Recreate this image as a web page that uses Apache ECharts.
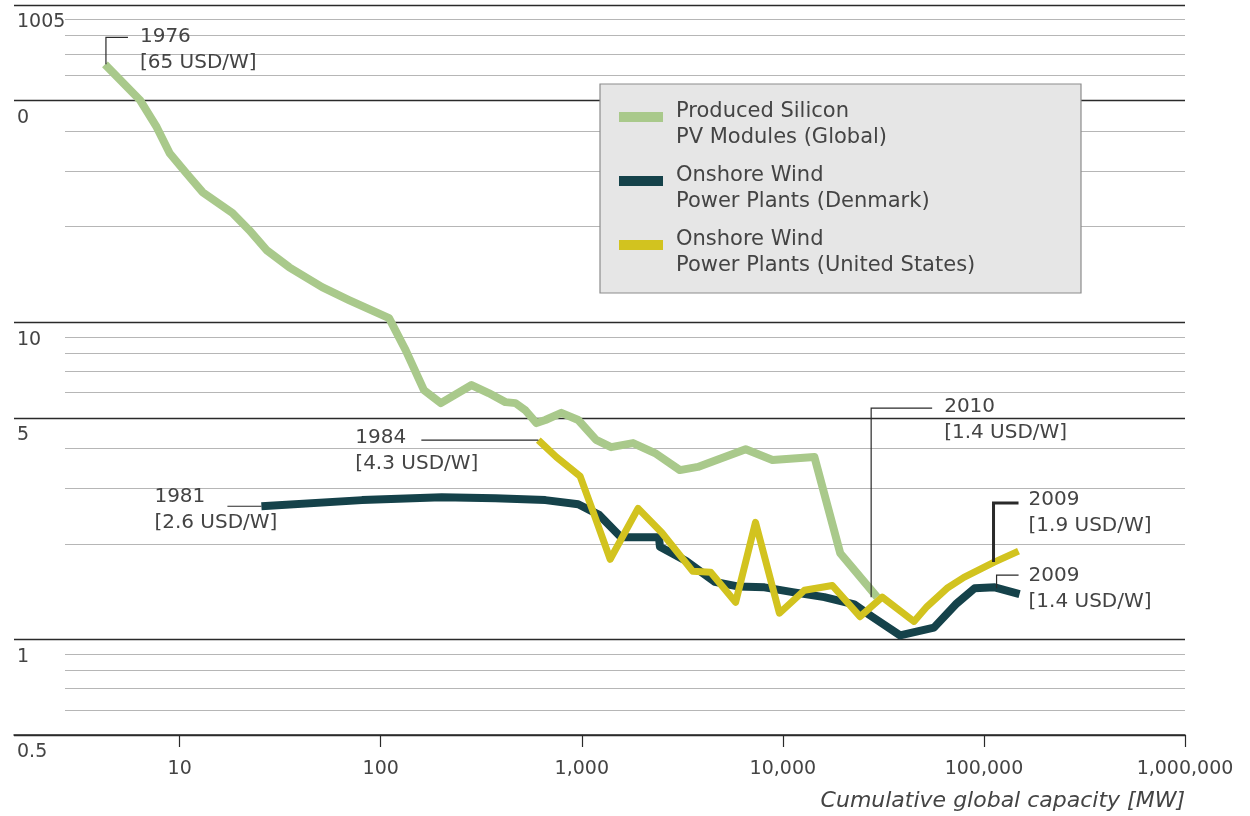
<!DOCTYPE html>
<html><head><meta charset="utf-8">
<script src="https://cdn.jsdelivr.net/npm/echarts@6/dist/echarts.min.js"></script>
<style>html,body{margin:0;padding:0;background:#fff}#c{width:1250px;height:816px}</style>
</head><body><div id="c"></div>
<script>
// ---------- data ----------
const xTickValues = [10, 100, 1000, 10000, 100000, 1000000];
const xTickLabels = ['10', '100', '1,000', '10,000', '100,000', '1,000,000'];
const yMajorValues = [100, 50, 10, 5, 1, 0.5];
const yMajorLabels = ['1005', '0', '10', '5', '1', '0.5'];
const yMinorValues = [90, 80, 70, 60, 40, 30, 20, 9, 8, 7, 6, 4, 3, 2, 0.9, 0.8, 0.7, 0.6];

const seriesNames = [
  'Produced Silicon\nPV Modules (Global)',
  'Onshore Wind\nPower Plants (Denmark)',
  'Onshore Wind\nPower Plants (United States)'
];

const pvCapacity = [4.25, 6.34, 7.69, 8.92, 10.8, 13.0, 18.3, 22.2, 27.0, 35.1, 51.1, 69.5, 110, 133, 164, 199, 283, 344, 417, 468, 524, 595, 659, 791, 960, 1178, 1399, 1798, 2311, 3076, 3778, 5139, 6531, 8879, 14350, 19290, 29440];
const pvPrice    = [65, 50.2, 41.2, 34.1, 29.5, 25.7, 22.1, 19.5, 16.9, 14.9, 12.9, 11.75, 10.3, 8.17, 6.11, 5.56, 6.34, 5.98, 5.60, 5.56, 5.28, 4.81, 4.92, 5.18, 4.92, 4.26, 4.04, 4.16, 3.87, 3.42, 3.50, 3.76, 3.98, 3.68, 3.76, 1.87, 1.36];

const dkCapacity = [25.5, 80.7, 201, 372, 659, 960, 1219, 1567, 2420, 2447, 3289, 4580, 5960, 8110, 11170, 16080, 22640, 27800, 38280, 56400, 73300, 89900, 113200, 150400];
const dkPrice    = [2.63, 2.75, 2.81, 2.79, 2.75, 2.67, 2.47, 2.10, 2.10, 1.96, 1.77, 1.52, 1.47, 1.46, 1.41, 1.36, 1.29, 1.18, 1.03, 1.09, 1.30, 1.45, 1.46, 1.39];

const usCapacity = [608, 747, 981, 1140, 1384, 1905, 2502, 3564, 4375, 5820, 7310, 9610, 12800, 17620, 24200, 31190, 44900, 52100, 65500, 79500, 111900, 148600];
const usPrice    = [4.25, 3.76, 3.27, 2.52, 1.79, 2.59, 2.17, 1.64, 1.63, 1.31, 2.34, 1.21, 1.43, 1.48, 1.18, 1.36, 1.14, 1.27, 1.45, 1.57, 1.75, 1.90];

const annotations = [
  ['1976', '[65 USD/W]'],
  ['1981', '[2.6 USD/W]'],
  ['1984', '[4.3 USD/W]'],
  ['2010', '[1.4 USD/W]'],
  ['2009', '[1.9 USD/W]'],
  ['2009', '[1.4 USD/W]']
];

// ---------- style ----------
const FONT = 'DejaVu Sans';
const TXT = '#444444';
const COLORS = ['#a9c98b', '#15424a', '#d2c31f'];

const pairs = (xs, ys) => xs.map((x, i) => [x, ys[i]]);
function xFmt(v) {
  const i = xTickValues.findIndex(t => Math.abs(Math.log10(t) - Math.log10(v)) < 1e-6);
  return i >= 0 ? xTickLabels[i] : '';
}

const chart = echarts.init(document.getElementById('c'), null, { renderer: 'canvas' });

const option = {
  animation: false,
  backgroundColor: '#ffffff',
  grid: [
    { left: 14, right: 65, top: 5, bottom: 81 },
    { left: 65, right: 65, top: 5, bottom: 81 }
  ],
  xAxis: [
    {
      type: 'log', gridIndex: 0, min: 1.5, max: 1000000, logBase: 10,
      axisLine: { show: true, lineStyle: { color: '#2a2a2a', width: 1.5 } },
      axisTick: { show: true, length: 12, lineStyle: { color: '#2a2a2a', width: 1.2 } },
      axisLabel: { formatter: xFmt, margin: 25, color: TXT, fontFamily: FONT, fontSize: 19, showMinLabel: false },
      splitLine: { show: false },
      minorTick: { show: false },
      name: 'Cumulative global capacity [MW]',
      nameLocation: 'end', nameGap: 0,
      nameTextStyle: { fontFamily: FONT, fontStyle: 'italic', fontSize: 22, color: TXT, align: 'right', verticalAlign: 'top', padding: [55, 0, 0, 0] }
    },
    { type: 'log', gridIndex: 1, min: 1.5, max: 1000000, show: false }
  ],
  yAxis: [
    { type: 'log', gridIndex: 0, min: 0.5, max: 100, show: false },
    { type: 'log', gridIndex: 1, min: 0.5, max: 100, show: false }
  ],
  legend: {
    orient: 'vertical', left: 619, top: 83, padding: 0, itemGap: -4,
    itemWidth: 44, itemHeight: 10, icon: 'rect', z: 30,
    data: seriesNames,
    formatter: name => '{s| }\n' + name.split('\n').map(l => '{a|' + l + '}').join('\n'),
    textStyle: {
      color: TXT, fontFamily: FONT, fontSize: 21, lineHeight: 26, padding: [0, 0, 0, 8],
      rich: {
        s: { fontSize: 8, lineHeight: 16, color: TXT, fontFamily: FONT },
        a: { fontSize: 21, lineHeight: 26, color: TXT, fontFamily: FONT }
      }
    }
  },
  series: [
    {
      type: 'line', xAxisIndex: 1, yAxisIndex: 1, data: [], z: 1, silent: true,
      markLine: {
        silent: true, symbol: 'none', animation: false,
        lineStyle: { color: '#b6b6b6', width: 1, type: 'solid' },
        label: { show: false },
        data: yMinorValues.map(v => ({ yAxis: v }))
      }
    },
    {
      type: 'line', xAxisIndex: 0, yAxisIndex: 0, data: [], z: 1, silent: true,
      markLine: {
        silent: true, symbol: 'none', animation: false,
        lineStyle: { color: '#2a2a2a', width: 1.3, type: 'solid' },
        label: { show: true, position: 'insideStartBottom', distance: [3, 8], color: TXT, fontFamily: FONT, fontSize: 19 },
        data: yMajorValues.map((v, i) => ({ yAxis: v, label: { formatter: yMajorLabels[i] } }))
      }
    },
    {
      name: seriesNames[0], type: 'line', xAxisIndex: 0, yAxisIndex: 0, z: 5,
      data: pairs(pvCapacity, pvPrice), showSymbol: false, symbol: 'none',
      color: COLORS[0], lineStyle: { color: COLORS[0], width: 8, join: 'round' }
    },
    {
      name: seriesNames[1], type: 'line', xAxisIndex: 0, yAxisIndex: 0, z: 6,
      data: pairs(dkCapacity, dkPrice), showSymbol: false, symbol: 'none',
      color: COLORS[1], lineStyle: { color: COLORS[1], width: 8, join: 'round' }
    },
    {
      name: seriesNames[2], type: 'line', xAxisIndex: 0, yAxisIndex: 0, z: 7,
      data: pairs(usCapacity, usPrice), showSymbol: false, symbol: 'none',
      color: COLORS[2], lineStyle: { color: COLORS[2], width: 7, join: 'round' }
    }
  ]
};
chart.setOption(option);

// ---------- annotations anchored through the axes ----------
const px = (x, y) => chart.convertToPixel({ xAxisIndex: 0, yAxisIndex: 0 }, [x, y]);
const last = a => a[a.length - 1];
const aPV0 = px(pvCapacity[0], pvPrice[0]);
const aDK0 = px(dkCapacity[0], dkPrice[0]);
const aUS0 = px(usCapacity[0], usPrice[0]);
const aPV1 = px(last(pvCapacity), last(pvPrice));
const aUS1 = px(last(usCapacity), last(usPrice));
const aDK1 = px(last(dkCapacity), last(dkPrice));

const LS = { stroke: '#2a2a2a', lineWidth: 1.2, fill: null };
function poly(points, extra) { return { type: 'polyline', z: 12, silent: true, shape: { points }, style: Object.assign({}, LS, extra || {}) }; }
function txt(lines, x, y) {
  return { type: 'text', z: 13, silent: true, x, y,
    style: { text: lines.join('\n'), fill: TXT, font: '20px "' + FONT + '"', lineHeight: 26, verticalAlign: 'top', align: 'left' } };
}
function whiteBox(x, y, w, h) { return { type: 'rect', z: 3, silent: true, shape: { x, y, width: w, height: h }, style: { fill: '#ffffff' } }; }

const g = [];
// legend box
g.push({ type: 'rect', z: 25, silent: true, shape: { x: 600, y: 84, width: 481, height: 209 }, style: { fill: '#e6e6e6', stroke: '#8c8c8c', lineWidth: 1.2 } });
// 1976
g.push(whiteBox(aPV0[0] + 23, aPV0[1] - 51, 144, 64));
g.push(poly([[aPV0[0] + 1, aPV0[1]], [aPV0[0] + 1, aPV0[1] - 27], [aPV0[0] + 23, aPV0[1] - 27]]));
g.push(txt(annotations[0], aPV0[0] + 35, aPV0[1] - 41));
// 1981
g.push(poly([[aDK0[0] - 34, aDK0[1]], [aDK0[0], aDK0[1]]]));
g.push(txt(annotations[1], aDK0[0] - 107, aDK0[1] - 22));
// 1984
g.push(whiteBox(aUS0[0] - 193, aUS0[1] - 15, 153, 55));
g.push(poly([[aUS0[0] - 117, aUS0[1]], [aUS0[0], aUS0[1]]]));
g.push(txt(annotations[2], aUS0[0] - 183, aUS0[1] - 15));
// 2010
g.push(whiteBox(aPV1[0] + 60, aPV1[1] - 203, 143, 54));
g.push(poly([[aPV1[0] - 6, aPV1[1]], [aPV1[0] - 6, aPV1[1] - 189], [aPV1[0] + 55, aPV1[1] - 189]]));
g.push(txt(annotations[3], aPV1[0] + 67, aPV1[1] - 203));
// 2009 US
g.push(poly([[aUS1[0] - 25, aUS1[1] + 11], [aUS1[0] - 25, aUS1[1] - 48], [aUS1[0], aUS1[1] - 48]], { lineWidth: 3 }));
g.push(txt(annotations[4], aUS1[0] + 10, aUS1[1] - 64));
// 2009 Denmark
g.push(poly([[aDK1[0] - 23, aDK1[1] - 6], [aDK1[0] - 23, aDK1[1] - 19], [aDK1[0] - 1, aDK1[1] - 19]]));
g.push(txt(annotations[5], aDK1[0] + 9, aDK1[1] - 31));

chart.setOption({ graphic: g });
</script>
</body></html>
